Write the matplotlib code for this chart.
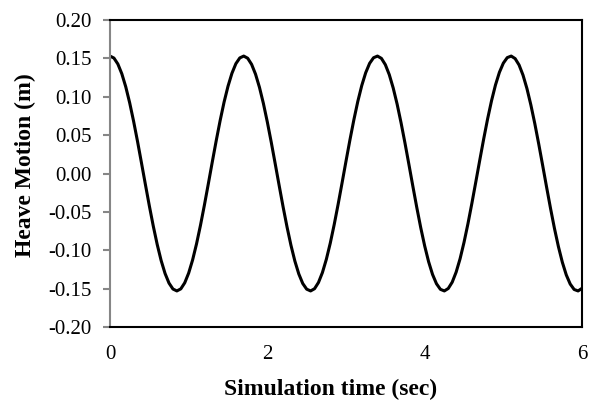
import matplotlib
matplotlib.use("Agg")
import matplotlib.pyplot as plt

# heave motion (m) sampled every 0.05 s from 0 to 6 s
heave = [
    0.1530, 0.1504, 0.1426, 0.1300, 0.1130, 0.0921, 0.0680, 0.0417, 0.0138, -0.0144,
    -0.0422, -0.0685, -0.0925, -0.1134, -0.1303, -0.1428, -0.1505, -0.1530, -0.1503, -0.1424,
    -0.1297, -0.1126, -0.0916, -0.0675, -0.0411, -0.0133, 0.0150, 0.0427, 0.0690, 0.0930,
    0.1137, 0.1306, 0.1431, 0.1506, 0.1530, 0.1502, 0.1422, 0.1294, 0.1122, 0.0912,
    0.0670, 0.0406, 0.0127, -0.0155, -0.0433, -0.0695, -0.0934, -0.1141, -0.1309, -0.1433,
    -0.1507, -0.1530, -0.1501, -0.1420, -0.1291, -0.1118, -0.0907, -0.0665, -0.0400, -0.0122,
    0.0161, 0.0438, 0.0700, 0.0939, 0.1145, 0.1312, 0.1435, 0.1508, 0.1530, 0.1500,
    0.1418, 0.1288, 0.1114, 0.0903, 0.0660, 0.0395, 0.0116, -0.0167, -0.0444, -0.0706,
    -0.0943, -0.1149, -0.1315, -0.1436, -0.1509, -0.1530, -0.1498, -0.1416, -0.1285, -0.1111,
    -0.0898, -0.0655, -0.0389, -0.0110, 0.0172, 0.0449, 0.0711, 0.0948, 0.1153, 0.1318,
    0.1438, 0.1510, 0.1530, 0.1497, 0.1414, 0.1282, 0.1107, 0.0893, 0.0650, 0.0384,
    0.0105, -0.0178, -0.0455, -0.0716, -0.0952, -0.1156, -0.1321, -0.1440, -0.1511, -0.1530,
    -0.1496,
]
time = [i * 0.05 for i in range(len(heave))]

x_ticks = [0, 2, 4, 6]
y_ticks = [-0.20, -0.15, -0.10, -0.05, 0.00, 0.05, 0.10, 0.15, 0.20]

plt.rcParams['font.family'] = ['Liberation Serif', 'DejaVu Serif']

fig = plt.figure(figsize=(5.94, 4.08), dpi=100)
ax = fig.add_axes([0.1852, 0.1985, 0.7946, 0.7525])

ax.plot(time, heave, color='black', linewidth=2.2)

ax.set_xlim(0, 6)
ax.set_ylim(-0.2, 0.2)
ax.set_xticks(x_ticks)
ax.set_xticklabels([str(t) for t in x_ticks])
ax.set_yticks(y_ticks)
ax.set_yticklabels([f"{v:.2f}" for v in y_ticks])

for side in ['top', 'right', 'bottom']:
    ax.spines[side].set_color('black')
    ax.spines[side].set_linewidth(1.5)
ax.spines['left'].set_color('#868686')
ax.spines['left'].set_linewidth(1.5)

ax.tick_params(axis='x', length=0, pad=13, labelsize=15)
ax.tick_params(axis='y', direction='out', length=5, width=1.5, color='#868686',
               pad=8, labelsize=15)

ax.set_xlabel("Simulation time (sec)", fontsize=17, fontweight='bold', va='center')
ax.set_ylabel("Heave Motion (m)", fontsize=17, fontweight='bold', va='center')
ax.xaxis.set_label_coords(0.467, -0.202)
ax.yaxis.set_label_coords(-0.180, 0.528)

fig.savefig("out.png", dpi=100)
